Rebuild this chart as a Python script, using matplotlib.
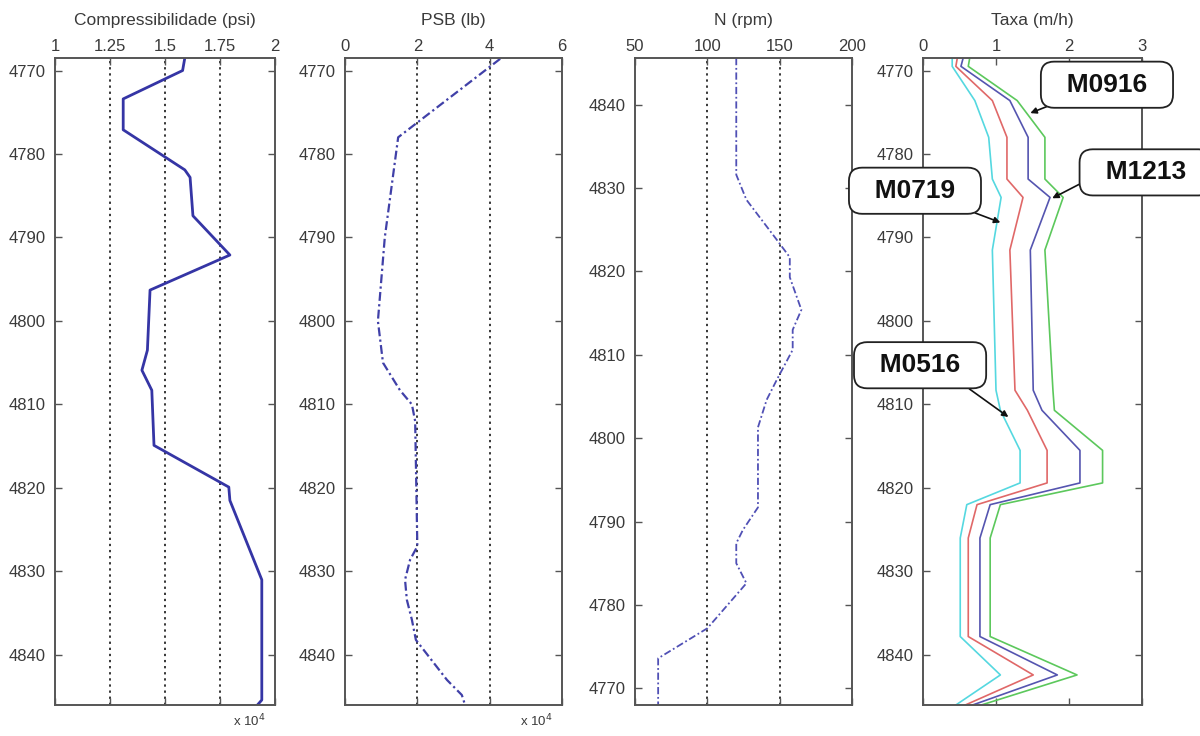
import matplotlib
matplotlib.use("Agg")
import matplotlib.pyplot as plt

plt.rcParams['font.family'] = ['Liberation Sans', 'DejaVu Sans']

# ---------------- data ----------------
depth_ticks = [4770, 4780, 4790, 4800, 4810, 4820, 4830, 4840]

# Panel 1: Compressibilidade (psi, x 10^4)
comp_depth = [4768.5, 4770, 4773.4, 4777.1, 4781.9, 4782.8, 4787.4, 4792.1, 4796.3,
              4803.5, 4805.9, 4808.3, 4814.9, 4819.9, 4821.5, 4831.0, 4845.4, 4846]
comp_val = [1.59, 1.58, 1.31, 1.31, 1.59, 1.614, 1.627, 1.795, 1.432,
            1.42, 1.395, 1.44, 1.45, 1.79, 1.795, 1.94, 1.94, 1.92]
comp_ticks = [1, 1.25, 1.5, 1.75, 2]
comp_ticklabels = ['1', '1.25', '1.5', '1.75', '2']

# Panel 2: PSB (lb, x 10^4)
psb_depth = [4768.6, 4778.0, 4790.0, 4800.0, 4805.0, 4808.3, 4810.0, 4812.0, 4827.0,
             4828.6, 4831.0, 4833.4, 4835.8, 4838.2, 4843.0, 4844.8, 4846.0]
psb_val = [4.29, 1.47, 1.10, 0.91, 1.05, 1.52, 1.85, 1.94, 2.00,
           1.80, 1.66, 1.71, 1.85, 1.96, 2.82, 3.23, 3.32]
psb_ticks = [0, 2, 4, 6]

# Panel 3: N (rpm)
n_depth = [4845.6, 4831.6, 4828.6, 4823.8, 4821.7, 4819.3, 4815.4, 4813.0, 4810.6,
           4807.0, 4804.6, 4801.3, 4791.7, 4789.0, 4787.4, 4785.0, 4782.6, 4777.2,
           4773.6, 4768.0]
n_val = [120, 120, 127, 148, 157, 157, 165, 159, 159,
         148, 141, 135, 135, 124.6, 120, 120, 127, 100,
         66, 66]
n_ticks = [50, 100, 150, 200]

# Panel 4: Taxa (m/h)
taxa_depth = [4768.5, 4769.5, 4773.6, 4778.0, 4783.0, 4785.2, 4791.5, 4808.3, 4810.7,
              4815.5, 4819.4, 4822.0, 4826.0, 4837.8, 4842.4, 4846.0]
taxa_cyan = [0.40, 0.40, 0.71, 0.90, 0.95, 1.07, 0.95, 1.00, 1.06,
             1.33, 1.33, 0.60, 0.51, 0.51, 1.06, 0.45]
taxa_red = [0.47, 0.45, 0.95, 1.15, 1.15, 1.37, 1.19, 1.26, 1.43,
            1.70, 1.70, 0.74, 0.62, 0.62, 1.51, 0.58]
taxa_blue = [0.55, 0.52, 1.19, 1.44, 1.44, 1.74, 1.47, 1.51, 1.63,
             2.15, 2.15, 0.92, 0.78, 0.78, 1.84, 0.68]
taxa_green = [0.64, 0.62, 1.29, 1.67, 1.67, 1.92, 1.67, 1.78, 1.80,
              2.46, 2.46, 1.06, 0.92, 0.92, 2.11, 0.80]
taxa_ticks = [0, 1, 2, 3]

callouts = ['M0916', 'M1213', 'M0719', 'M0516']

# ---------------- figure ----------------
W, H = 1200, 736
fig = plt.figure(figsize=(W / 100, H / 100), dpi=100)
AX_TOP, AX_BOTTOM = 58, 705

def add_ax(left_px, width_px):
    return fig.add_axes([left_px / W, 1 - AX_BOTTOM / H, width_px / W,
                         (AX_BOTTOM - AX_TOP) / H])

ax1 = add_ax(55, 220)
ax2 = add_ax(345, 217)
ax3 = add_ax(635, 217)
ax4 = add_ax(923, 219)

spine_col = '#555555'
txt_col = '#3a3a3a'

def style(ax, title):
    for s in ax.spines.values():
        s.set_color(spine_col)
        s.set_linewidth(1.4)
    ax.tick_params(direction='in', top=True, bottom=True, left=True, right=True,
                   labeltop=True, labelbottom=False, length=5, width=1,
                   color=spine_col, labelsize=12, labelcolor=txt_col)
    ax.tick_params(axis='y', pad=7)
    ax.tick_params(axis='x', pad=3)
    ax.text(0.5, 1 + (AX_TOP - 20) / (AX_BOTTOM - AX_TOP), title,
            transform=ax.transAxes, ha='center', va='center',
            fontsize=12.5, color=txt_col)

def grid(ax, ticks):
    for v in ticks[1:-1]:
        ax.axvline(v, color='k', ls=(0, (1.5, 2.5)), lw=1.1, zorder=0)

# Panel 1
ax1.plot(comp_val, comp_depth, color='#3535a5', lw=2.0)
ax1.set_xlim(1, 2)
ax1.set_ylim(4846, 4768.5)
ax1.set_xticks(comp_ticks)
ax1.set_xticklabels(comp_ticklabels)
ax1.set_yticks(depth_ticks)
grid(ax1, comp_ticks)
style(ax1, 'Compressibilidade (psi)')
ax1.text(0.955, -0.012, r'x 10$^4$', transform=ax1.transAxes, ha='right', va='top',
         fontsize=9.5, color=txt_col)

# Panel 2
ax2.plot(psb_val, psb_depth, color='#4040a8', lw=1.6, ls=(0, (4, 1.5, 1, 1.5)))
ax2.set_xlim(0, 6)
ax2.set_ylim(4846, 4768.5)
ax2.set_xticks(psb_ticks)
ax2.set_yticks(depth_ticks)
grid(ax2, psb_ticks)
style(ax2, 'PSB (lb)')
ax2.text(0.955, -0.012, r'x 10$^4$', transform=ax2.transAxes, ha='right', va='top',
         fontsize=9.5, color=txt_col)

# Panel 3 (depth axis not reversed, as in the reference)
ax3.plot(n_val, n_depth, color='#5050b5', lw=1.3, ls=(0, (4, 1.5, 1, 1.5)))
ax3.set_xlim(50, 200)
ax3.set_ylim(4768, 4845.6)
ax3.set_xticks(n_ticks)
ax3.set_yticks(depth_ticks)
grid(ax3, n_ticks)
style(ax3, 'N (rpm)')

# Panel 4
ax4.plot(taxa_cyan, taxa_depth, color='#55d8e0', lw=1.2)
ax4.plot(taxa_red, taxa_depth, color='#e06868', lw=1.2)
ax4.plot(taxa_blue, taxa_depth, color='#5555b0', lw=1.2)
ax4.plot(taxa_green, taxa_depth, color='#5cc85c', lw=1.2)
ax4.set_xlim(0, 3)
ax4.set_ylim(4846, 4768.5)
ax4.set_xticks(taxa_ticks)
ax4.set_yticks(depth_ticks)
style(ax4, 'Taxa (m/h)')

# Callouts (text centre, arrow tip, arrow start on box)
callout_text_pos = [(2.52, 4771.7), (3.05, 4782.2), (-0.11, 4784.4), (-0.04, 4805.3)]
callout_tip = [(1.47, 4775.1), (1.77, 4785.3), (1.06, 4788.2), (1.17, 4811.5)]
callout_relpos = [(0.18, 0.0), (0.0, 0.25), (0.8, 0.0), (0.8, 0.0)]
for label, tpos, tip, rp in zip(callouts, callout_text_pos, callout_tip, callout_relpos):
    ax4.annotate('  ' + label + '  ', xy=tip, xytext=tpos, ha='center', va='center',
                 fontsize=19, fontweight='bold', color='#111111',
                 annotation_clip=False, zorder=10,
                 bbox=dict(boxstyle='round,pad=0.42,rounding_size=0.5', fc='white',
                           ec='#222222', lw=1.3),
                 arrowprops=dict(arrowstyle='-|>', color='#111111', lw=1.2,
                                 mutation_scale=9, relpos=rp, shrinkA=0, shrinkB=0))

fig.savefig('out.png', dpi=100)
